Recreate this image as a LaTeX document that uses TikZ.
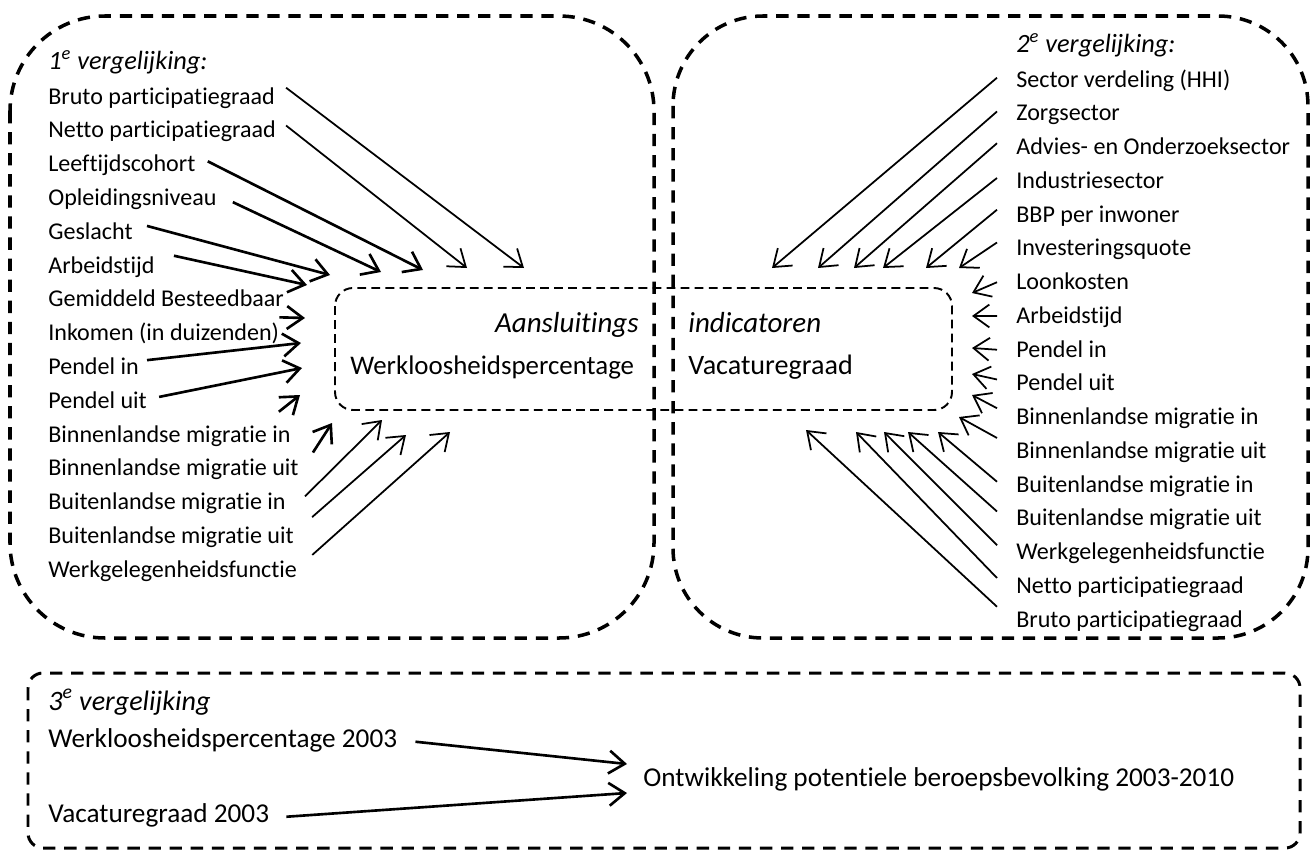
\documentclass[tikz,border=0pt]{standalone}
\usepackage{fontspec}
\setmainfont{Carlito}[Ligatures=NoCommon]
\usetikzlibrary{arrows.meta,calc}
\newcommand{\tekstmaat}{\fontsize{13.7}{16}\selectfont}
\newcommand{\kopmaat}{\fontsize{15}{18}\selectfont}
\newcommand{\grotemaat}{\fontsize{15.5}{18}\selectfont}
\tikzset{
  tekst/.style={anchor=base west,inner sep=0pt,text height=9pt,text depth=3pt},
  kop/.style={tekst,font=\kopmaat\itshape},
  pijl/.style={-{Straight Barb[length=9pt,width=13pt]},line width=1pt},
  dikpijl/.style={pijl,line width=1.5pt},
  kader/.style={line width=2pt,dash pattern=on 7pt off 5pt},
  binnenkader/.style={line width=1.1pt,dash pattern=on 5pt off 3pt}
}

\begin{document}
\begin{tikzpicture}[x=0.02cm,y=-0.02cm,font=\tekstmaat]
\useasboundingbox (0,0) rectangle (1311,852);

% kaders
\draw[kader,rounded corners=1.9cm] (10,16) rectangle (654,638);
\draw[kader,rounded corners=1.8cm] (673,16) rectangle (1308,638);
\draw[binnenkader,rounded corners=0.36cm] (335,288) rectangle (952,410);
\draw[kader,line width=1.7pt,rounded corners=0.3cm] (28,673) rectangle (1300,848);

% aansluitingsindicatoren
\node[kop,font=\fontsize{16.5}{19}\selectfont\itshape,anchor=base east] (aans) at (639,332) {Aansluitings};
\node[kop,font=\fontsize{16.5}{19}\selectfont\itshape] (ind) at (688,332) {indicatoren};
\node[tekst,font=\fontsize{15.3}{18}\selectfont] (wlp) at (350,374) {Werkloosheidspercentage};
\node[tekst,font=\fontsize{16}{19}\selectfont] (vac) at (688,374) {Vacaturegraad};

% 1e vergelijking
\node[kop] (kop1) at (48,69) {1\textsuperscript{e} vergelijking:};
\node[tekst] (l1) at (48,104) {Bruto participatiegraad};
\node[tekst] (l2) at (48,137.8) {Netto participatiegraad};
\node[tekst] (l3) at (48,171.6) {Leeftijdscohort};
\node[tekst] (l4) at (48,205.4) {Opleidingsniveau};
\node[tekst] (l5) at (48,239.2) {Geslacht};
\node[tekst] (l6) at (48,273) {Arbeidstijd};
\node[tekst] (l7) at (48,306.8) {Gemiddeld Besteedbaar};
\node[tekst] (l8) at (48,340.6) {Inkomen (in duizenden)};
\node[tekst] (l9) at (48,374.4) {Pendel in};
\node[tekst] (l10) at (48,408.2) {Pendel uit};
\node[tekst] (l11) at (48,442) {Binnenlandse migratie in};
\node[tekst] (l12) at (48,475.8) {Binnenlandse migratie uit};
\node[tekst] (l13) at (48,509.6) {Buitenlandse migratie in};
\node[tekst] (l14) at (48,543.4) {Buitenlandse migratie uit};
\node[tekst] (l15) at (48,577.2) {Werkgelegenheidsfunctie};

\coordinate (k1) at (524,268);
\coordinate (k2) at (467,268);
\coordinate (k3) at (423,270);
\coordinate (k4) at (381,272);
\coordinate (k5) at (330,275);
\coordinate (k6) at (307,285);
\coordinate (k7) at (305,318);
\coordinate (k8) at (301,343);
\coordinate (k9) at (302,368);
\coordinate (k10) at (300,395);
\coordinate (k11) at (332,423);
\coordinate (k12) at (382,420);
\coordinate (k13) at (406,435);
\coordinate (k14) at (450,432);

\draw[pijl] ($(l1.east)+(11,-11)$) -- (k1);
\draw[pijl] ($(l2.east)+(10,-7)$) -- (k2);
\draw[dikpijl] ($(l3.east)+(12,-5)$) -- (k3);
\draw[dikpijl] ($(l4.east)+(16,2)$) -- (k4);
\draw[dikpijl] ($(l5.east)+(14,-8)$) -- (k5);
\draw[dikpijl] ($(l6.east)+(19,-12)$) -- (k6);
\draw[dikpijl] ($(l8.east)+(0,-18)$) -- (k7);
\draw[dikpijl] ($(l9.east)+(8,-9)$) -- (k8);
\draw[dikpijl] ($(l10.east)+(12,-6)$) -- (k9);
\draw[dikpijl] ($(l11.east)+(-12,-25)$) -- (k10);
\draw[dikpijl] ($(l12.east)+(14,-18)$) -- (k11);
\draw[pijl] ($(l13.east)+(19,-8)$) -- (k12);
\draw[pijl] ($(l14.east)+(18,-21)$) -- (k13);
\draw[pijl] ($(l15.east)+(15,-17)$) -- (k14);

% 2e vergelijking
\node[kop] (kop2) at (1016,52) {2\textsuperscript{e} vergelijking:};
\node[tekst] (r1) at (1016,87) {Sector verdeling (HHI)};
\node[tekst] (r2) at (1016,120.75) {Zorgsector};
\node[tekst] (r3) at (1016,154.5) {Advies- en Onderzoeksector};
\node[tekst] (r4) at (1016,188.25) {Industriesector};
\node[tekst] (r5) at (1016,222) {BBP per inwoner};
\node[tekst] (r6) at (1016,255.75) {Investeringsquote};
\node[tekst] (r7) at (1016,289.5) {Loonkosten};
\node[tekst] (r8) at (1016,323.25) {Arbeidstijd};
\node[tekst] (r9) at (1016,357) {Pendel in};
\node[tekst] (r10) at (1016,390.75) {Pendel uit};
\node[tekst] (r11) at (1016,424.5) {Binnenlandse migratie in};
\node[tekst] (r12) at (1016,458.25) {Binnenlandse migratie uit};
\node[tekst] (r13) at (1016,492) {Buitenlandse migratie in};
\node[tekst] (r14) at (1016,525.75) {Buitenlandse migratie uit};
\node[tekst] (r15) at (1016,559.5) {Werkgelegenheidsfunctie};
\node[tekst] (r16) at (1016,593.25) {Netto participatiegraad};
\node[tekst] (r17) at (1016,627) {Bruto participatiegraad};

\coordinate (h1) at (772,268);
\coordinate (h2) at (818,268);
\coordinate (h3) at (854,268);
\coordinate (h4) at (883,268);
\coordinate (h5) at (926,268);
\coordinate (h6) at (959,268);
\coordinate (h7) at (972,293);
\coordinate (h8) at (972,316);
\coordinate (h9) at (972,348);
\coordinate (h10) at (972,374);
\coordinate (h11) at (972,395);
\coordinate (h12) at (959,417);
\coordinate (h13) at (938,432);
\coordinate (h14) at (908,432);
\coordinate (h15) at (884,432);
\coordinate (h16) at (856,432);
\coordinate (h17) at (806,430);

\draw[pijl] ($(r1.west)+(-19,-4)$) -- (h1);
\draw[pijl] ($(r2.west)+(-19,-4)$) -- (h2);
\draw[pijl] ($(r3.west)+(-19,-6)$) -- (h3);
\draw[pijl] ($(r4.west)+(-19,-5)$) -- (h4);
\draw[pijl] ($(r5.west)+(-19,-7)$) -- (h5);
\draw[pijl] ($(r6.west)+(-19,-8)$) -- (h6);
\draw[pijl] ($(r7.west)+(-19,-2)$) -- (h7);
\draw[pijl] ($(r8.west)+(-19,-2)$) -- (h8);
\draw[pijl] ($(r9.west)+(-19,-2)$) -- (h9);
\draw[pijl] ($(r10.west)+(-19,-6)$) -- (h10);
\draw[pijl] ($(r11.west)+(-19,-11)$) -- (h11);
\draw[pijl] ($(r12.west)+(-19,-15)$) -- (h12);
\draw[pijl] ($(r13.west)+(-19,-5)$) -- (h13);
\draw[pijl] ($(r14.west)+(-19,-9)$) -- (h14);
\draw[pijl] ($(r15.west)+(-19,-9)$) -- (h15);
\draw[pijl] ($(r16.west)+(-19,-10)$) -- (h16);
\draw[pijl] ($(r17.west)+(-19,-15)$) -- (h17);

% 3e vergelijking
\node[kop,font=\fontsize{16}{19}\selectfont\itshape] (kop3) at (48,710) {3\textsuperscript{e} vergelijking};
\node[tekst,font=\grotemaat] (w03) at (48,747) {Werkloosheidspercentage 2003};
\node[tekst,font=\grotemaat] (v03) at (48,822) {Vacaturegraad 2003};
\node[tekst,font=\grotemaat] (ontw) at (643,786) {Ontwikkeling potentiele beroepsbevolking 2003-2010};
\coordinate (o1) at (627,764);
\coordinate (o2) at (627,793);
\draw[dikpijl] ($(w03.east)+(18,0)$) -- (o1);
\draw[dikpijl] ($(v03.east)+(17,0)$) -- (o2);
\end{tikzpicture}
\end{document}
